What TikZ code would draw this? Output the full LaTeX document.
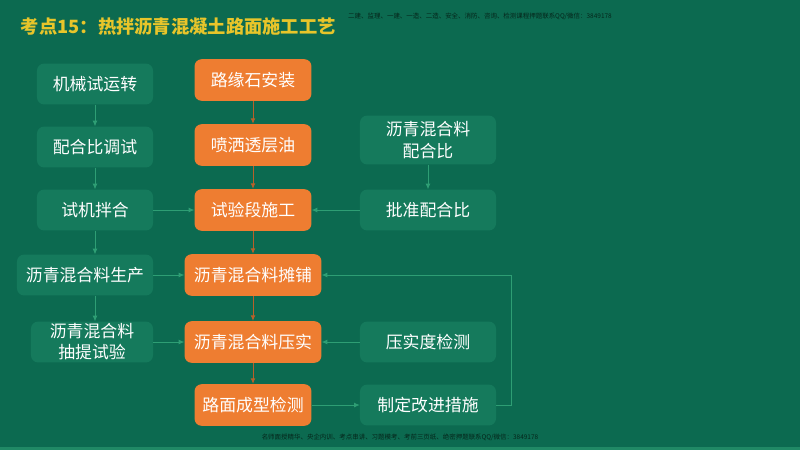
\documentclass[tikz,border=0pt]{standalone}
\usepackage{fontspec}
\usetikzlibrary{arrows.meta}
\newfontfamily\cjk{Noto Sans CJK SC}
\definecolor{bggreen}{HTML}{0C6A50}
\definecolor{boxgreen}{HTML}{157A5C}
\definecolor{linegreen}{HTML}{2E9E74}
\definecolor{boxorange}{HTML}{EE7D31}
\definecolor{lineorange}{HTML}{B8602A}
\definecolor{titleyellow}{HTML}{E8C52A}
\definecolor{markdark}{HTML}{05261B}

\begin{document}
\begin{tikzpicture}[x=0.025cm, y=-0.025cm,
		greenbox/.style={fill=boxgreen, rounded corners=5pt, text=white, align=center,
			font=\cjk\fontsize{12}{15}\selectfont, inner sep=0pt, minimum width=3.4cm, minimum height=1.02cm},
		orangebox/.style={fill=boxorange, rounded corners=5pt, text=white, align=center,
			font=\cjk\fontsize{12}{15}\selectfont, inner sep=0pt, minimum width=2.92cm, minimum height=1.04cm},
		garrow/.style={draw=linegreen, line width=0.6pt, -{Latex[length=4pt,width=3.5pt]}},
		oarrow/.style={draw=lineorange, line width=0.7pt, -{Latex[length=4pt,width=3.5pt]}}]
				\useasboundingbox (0,0) rectangle (800,450);
				\fill[bggreen] (0,0) rectangle (800,450);
				\fill[linegreen!60!bggreen] (0,447) rectangle (800,450);
				% title and marks
				\node[anchor=west, text=titleyellow, font=\cjk\bfseries\fontsize{13}{16}\selectfont] (title)at(16, 27) {考点15：热拌沥青混凝土路面施工工艺};
				\node[text=markdark, font=\cjk\fontsize{4.6}{5}\selectfont] (topmark)at(480, 16) {二建、监理、一建、一造、二造、安全、消防、咨询、检测课程押题联系QQ/微信：3849178};
				\node[text=markdark, font=\cjk\fontsize{4.6}{5}\selectfont] (bottommark)at(400, 437) {名师面授精华、央企内训、考点串讲、习题模考、考前三页纸、绝密押题联系QQ/微信：3849178};
				% left column
				\node[greenbox, minimum width=2.9cm] (mech)at(95, 84) {机械试运转};
				\node[greenbox, minimum width=2.9cm] (tune)at(95, 147) {配合比调试};
				\node[greenbox, minimum width=2.9cm] (trialmix)at(95, 210) {试机拌合};
				\node[greenbox] (produce)at(85, 275) {沥青混合料生产};
				\node[greenbox, minimum width=3.05cm] (extract)at(92, 342) {沥青混合料\\抽提试验};
				% middle column
				\node[orangebox] (curb)at(253, 80) {路缘石安装};
				\node[orangebox] (prime)at(253, 145) {喷洒透层油};
				\node[orangebox] (trialsec)at(253, 210) {试验段施工};
				\node[orangebox, minimum width=3.42cm] (pave)at(253, 275) {沥青混合料摊铺};
				\node[orangebox, minimum width=3.42cm] (compact)at(253, 342) {沥青混合料压实};
				\node[orangebox] (check)at(253, 405) {路面成型检测};
				% right column
				\node[greenbox, minimum height=1.22cm] (design)at(428, 140) {沥青混合料\\配合比};
				\node[greenbox] (approve)at(428, 210) {批准配合比};
				\node[greenbox] (density)at(428, 342) {压实度检测};
				\node[greenbox] (improve)at(428, 405) {制定改进措施};
				% arrows
				\draw[garrow] (mech) -- (tune);
				\draw[garrow] (tune) -- (trialmix);
				\draw[garrow] (trialmix) -- (trialmix |- produce.north);
				\draw[garrow] (trialmix |- produce.south) -- (trialmix |- extract.north);
				\draw[garrow] (trialmix) -- (trialsec);
				\draw[garrow] (produce) -- (pave);
				\draw[garrow] (extract) -- (compact);
				\draw[oarrow] (curb) -- (prime);
				\draw[oarrow] (prime) -- (trialsec);
				\draw[oarrow] (trialsec) -- (pave);
				\draw[oarrow] (pave) -- (compact);
				\draw[oarrow] (compact) -- (check);
				\draw[garrow] (design) -- (approve);
				\draw[garrow] (approve) -- (trialsec);
				\draw[garrow] (density) -- (compact);
				\draw[garrow] (check) -- (improve);
				\draw[garrow] (improve.east) -- ++(15,0) |- (pave.east);
			\end{tikzpicture}
\end{document}
